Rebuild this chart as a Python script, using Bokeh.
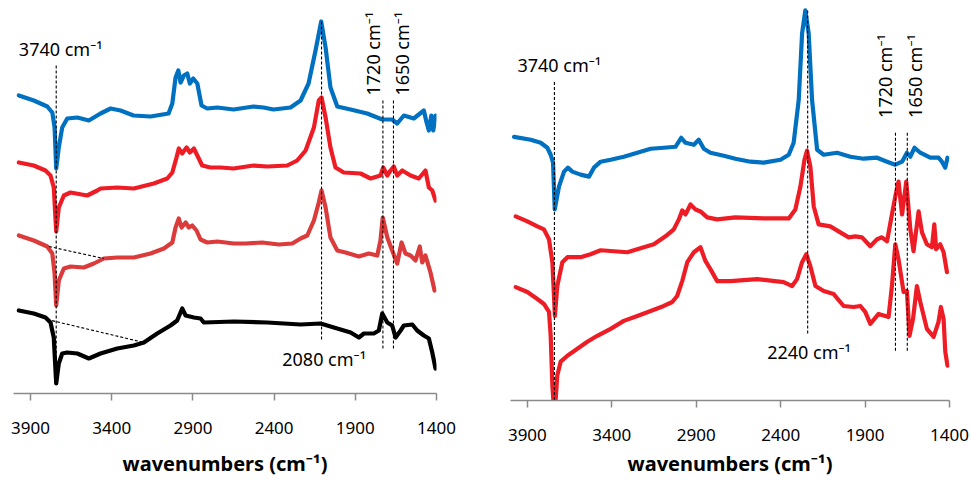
import math
from bokeh.plotting import figure
from bokeh.layouts import row
from bokeh.models import FixedTicker, Range1d
from bokeh.embed import file_html
from bokeh.resources import INLINE
from bokeh.core.properties import value

# ---------------- data (wavenumber in cm-1, intensity in a.u.) ----------------
TICKS = [3900, 3400, 2900, 2400, 1900, 1400]
AXIS_TITLE = "wavenumbers (cm⁻¹)"

# Left panel
L_blue_wn = [3972, 3880, 3797, 3766, 3752, 3742, 3726, 3705, 3674, 3612, 3541, 3469, 3407, 3346, 3266, 3161,
             3050, 3027, 3007, 2990, 2976, 2956, 2935, 2919, 2898, 2873, 2847, 2812, 2750, 2650, 2527, 2465,
             2404, 2299, 2237, 2188, 2145, 2110, 2083, 2053, 2011, 1929, 1827, 1734, 1673, 1642, 1601, 1540,
             1478, 1461, 1447, 1432, 1420, 1406]
L_blue_int = [298, 293, 287, 281, 266, 225, 246, 266, 275, 276, 273, 280, 285, 283, 278, 277,
              280, 290, 316, 323, 311, 318, 320, 310, 315, 310, 288, 285, 286, 284, 287, 286,
              284, 286, 293, 310, 343, 372, 346, 306, 287, 284, 280, 274, 274, 270, 278, 275,
              283, 271, 263, 278, 263, 278]

L_red_wn = [3972, 3881, 3808, 3777, 3757, 3742, 3726, 3695, 3654, 3551, 3489, 3469, 3366, 3264, 3141,
            3058, 3027, 3001, 2987, 2966, 2939, 2919, 2894, 2867, 2843, 2792, 2730, 2650, 2527, 2442,
            2319, 2258, 2206, 2155, 2125, 2108, 2083, 2053, 2022, 1971, 1868, 1806, 1745, 1728, 1703,
            1683, 1663, 1642, 1611, 1560, 1509, 1468, 1447, 1426, 1406]
L_red_int = [231, 228, 223, 218, 206, 162, 186, 198, 201, 198, 203, 205, 206, 205, 210,
             215, 221, 236, 245, 240, 246, 241, 245, 236, 228, 226, 226, 225, 228, 227,
             228, 233, 243, 266, 293, 296, 276, 246, 226, 221, 220, 215, 218, 226, 218,
             223, 227, 218, 223, 218, 215, 223, 206, 203, 193]

L_red2_wn = [3972, 3880, 3797, 3766, 3752, 3742, 3726, 3695, 3654, 3572, 3510, 3449, 3366, 3264, 3161,
             3079, 3027, 3007, 2987, 2970, 2945, 2925, 2904, 2878, 2853, 2812, 2750, 2648, 2576, 2473,
             2371, 2288, 2237, 2196, 2155, 2125, 2108, 2083, 2053, 2011, 1960, 1878, 1817, 1765, 1745,
             1731, 1703, 1673, 1642, 1615, 1591, 1560, 1529, 1503, 1488, 1468, 1437, 1412]
L_red2_int = [158, 153, 147, 140, 120, 88, 113, 125, 127, 126, 130, 135, 136, 136, 140,
              145, 151, 166, 175, 166, 171, 166, 168, 163, 154, 151, 152, 150, 150, 151,
              149, 150, 155, 158, 173, 191, 203, 186, 156, 143, 141, 137, 140, 138, 153,
              176, 156, 143, 130, 151, 140, 138, 133, 147, 131, 138, 121, 103]

L_black_wn = [3972, 3880, 3808, 3777, 3757, 3742, 3726, 3705, 3674, 3612, 3541, 3469, 3366, 3264, 3202,
              3120, 3038, 2997, 2966, 2945, 2894, 2853, 2833, 2648, 2442, 2237, 2114, 2032, 1929, 1878,
              1847, 1786, 1755, 1734, 1703, 1673, 1652, 1621, 1601, 1549, 1519, 1478, 1447, 1426, 1406]
L_black_int = [83, 80, 76, 71, 56, 10, 30, 40, 41, 40, 35, 40, 45, 48, 51,
               60, 68, 73, 85, 78, 76, 75, 71, 72, 71, 69, 70, 66, 61, 56,
               60, 60, 63, 80, 71, 68, 56, 63, 68, 69, 63, 58, 55, 41, 25]

L_vline_wn = [3742, 2108, 1730, 1665]
L_vline_top = [328, 372, 293, 293]
L_vline_bottom = [10, 53, 45, 45]
L_base_x0 = [3787, 3797]
L_base_y0 = [147, 74]
L_base_x1 = [3449, 3202]
L_base_y1 = [135, 51]

L_lab_text = ["3740 cm⁻¹", "2080 cm⁻¹"]
L_lab_wn = [3972, 2350]
L_lab_int = [345, 35]
L_rlab_text = ["1720 cm⁻¹", "1650 cm⁻¹"]
L_rlab_wn = [1791, 1613]
L_rlab_int = [298, 298]

# Right panel
R_blue_wn = [3979, 3880, 3821, 3782, 3762, 3748, 3738, 3713, 3683, 3660, 3634, 3585, 3535, 3506, 3466,
             3407, 3329, 3249, 3170, 3092, 3023, 2989, 2963, 2914, 2885, 2855, 2816, 2737, 2668, 2579,
             2500, 2401, 2352, 2323, 2293, 2273, 2254, 2234, 2214, 2184, 2145, 2066, 1987, 1909, 1829,
             1770, 1721, 1681, 1652, 1632, 1607, 1573, 1514, 1465, 1445, 1425, 1412]
R_blue_int = [265, 262, 259, 254, 247, 239, 192, 215, 230, 234, 230, 227, 225, 234, 240,
              242, 245, 249, 253, 254, 255, 264, 259, 257, 262, 253, 249, 246, 243, 240,
              239, 242, 247, 259, 302, 369, 392, 369, 302, 252, 247, 249, 245, 243, 244,
              240, 237, 240, 249, 245, 254, 249, 244, 244, 240, 234, 244]

R_red_wn = [3969, 3900, 3841, 3802, 3772, 3752, 3737, 3723, 3693, 3663, 3585, 3526, 3466, 3388, 3308,
            3230, 3151, 3082, 3033, 3003, 2983, 2963, 2934, 2904, 2875, 2835, 2776, 2668, 2500, 2352,
            2313, 2283, 2259, 2244, 2224, 2204, 2175, 2106, 2047, 1997, 1958, 1918, 1869, 1829, 1800,
            1770, 1741, 1721, 1702, 1681, 1656, 1632, 1613, 1583, 1563, 1534, 1504, 1490, 1479, 1455,
            1435, 1415]
R_red_int = [185, 180, 175, 172, 162, 139, 85, 115, 139, 144, 144, 147, 151, 150, 149,
             153, 157, 165, 172, 182, 191, 187, 197, 192, 190, 184, 182, 184, 183, 183,
             192, 215, 242, 251, 235, 195, 177, 175, 169, 164, 165, 164, 155, 162, 164,
             160, 187, 205, 220, 187, 220, 172, 150, 190, 169, 157, 154, 177, 152, 157,
             149, 129]

R_red2_wn = [3969, 3900, 3841, 3802, 3772, 3762, 3752, 3746, 3733, 3723, 3703, 3663, 3604, 3545, 3486,
             3407, 3329, 3249, 3170, 3092, 3042, 3013, 2983, 2953, 2914, 2875, 2845, 2816, 2776, 2697,
             2539, 2382, 2332, 2303, 2273, 2248, 2224, 2194, 2145, 2086, 2027, 1968, 1928, 1899, 1869,
             1820, 1761, 1741, 1721, 1702, 1672, 1652, 1637, 1616, 1593, 1573, 1534, 1494, 1465, 1451,
             1435, 1425, 1412]
R_red2_int = [114, 109, 102, 97, 89, 65, 15, 0, 0, 25, 39, 45, 52, 59, 65,
              72, 80, 85, 90, 95, 99, 105, 120, 139, 149, 154, 140, 132, 120, 120,
              122, 119, 115, 122, 139, 147, 135, 115, 110, 107, 95, 94, 95, 89, 77,
              87, 84, 115, 157, 142, 109, 110, 65, 82, 115, 99, 72, 64, 79, 94,
              82, 49, 35]

R_vline_wn = [3740, 2240, 1720, 1650]
R_vline_top = [320, 392, 269, 269]
R_vline_bottom = [0, 67, 50, 50]

R_lab_text = ["3740 cm⁻¹", "2240 cm⁻¹"]
R_lab_wn = [3959, 2480]
R_lab_int = [337, 49]
R_rlab_text = ["1720 cm⁻¹", "1650 cm⁻¹"]
R_rlab_wn = [1780, 1603]
R_rlab_int = [284, 284]

BLUE = "#0070C0"
RED = "#EE1C25"
RED2 = "#DC3B3B"
FONT = "Noto Sans"


def make_panel(width, border_left, border_right, border_bottom, x_start, y_max, title_standoff):
    p = figure(width=width, height=480, output_backend="svg", toolbar_location=None,
               x_range=Range1d(x_start, 1400), y_range=Range1d(0, y_max),
               y_axis_location=None, min_border_left=border_left, min_border_right=border_right,
               min_border_top=0, min_border_bottom=border_bottom, frame_align=False)
    p.grid.visible = False
    p.outline_line_color = None
    p.background_fill_color = "white"
    p.border_fill_color = "white"
    ax = p.xaxis[0]
    ax.ticker = FixedTicker(ticks=TICKS)
    ax.minor_tick_line_color = None
    ax.axis_line_color = "#8a8a8a"
    ax.axis_line_width = 1.5
    ax.major_tick_line_color = "#8a8a8a"
    ax.major_tick_line_width = 1.5
    ax.major_tick_out = 7
    ax.major_tick_in = 0
    ax.major_label_text_font = FONT
    ax.major_label_text_font_size = "17px"
    ax.major_label_text_color = "black"
    ax.major_label_standoff = 21
    ax.axis_label = AXIS_TITLE
    ax.axis_label_text_font = FONT
    ax.axis_label_text_font_style = "bold"
    ax.axis_label_text_font_size = "20px"
    ax.axis_label_text_color = "black"
    ax.axis_label_standoff = title_standoff
    return p


def add_common(p, series, vx, vtop, vbot, lab, rlab):
    for xs, ys, c in series:
        p.line(xs, ys, line_color=c, line_width=4.2, line_join="round", line_cap="round")
    p.segment(x0=vx, y0=vtop, x1=vx, y1=vbot, line_color="black", line_width=1.1, line_dash="3 2")
    t, x, y = lab
    p.text(x=x, y=y, text=t, text_font=value(FONT), text_font_size="18px",
           text_align="left", text_baseline="alphabetic", text_color="black")
    t, x, y = rlab
    p.text(x=x, y=y, text=t, text_font=value(FONT), text_font_size="18px",
           text_align="left", text_baseline="middle", text_color="black", angle=math.pi / 2)


left = make_panel(490, 13, 54, 87, 4005, 393, 13)
add_common(left,
           [(L_blue_wn, L_blue_int, BLUE), (L_red_wn, L_red_int, RED),
            (L_red2_wn, L_red2_int, RED2), (L_black_wn, L_black_int, "black")],
           L_vline_wn, L_vline_top, L_vline_bottom,
           (L_lab_text, L_lab_wn, L_lab_int), (L_rlab_text, L_rlab_wn, L_rlab_int))
left.segment(x0=L_base_x0, y0=L_base_y0, x1=L_base_x1, y1=L_base_y1,
             line_color="black", line_width=1.1, line_dash="3 2")

right = make_panel(481, 20, 22, 80, 4000, 402, 6)
add_common(right,
           [(R_blue_wn, R_blue_int, BLUE), (R_red_wn, R_red_int, RED), (R_red2_wn, R_red2_int, RED)],
           R_vline_wn, R_vline_top, R_vline_bottom,
           (R_lab_text, R_lab_wn, R_lab_int), (R_rlab_text, R_rlab_wn, R_rlab_int))

layout = row(left, right, spacing=0)
open("out.html", "w").write(file_html(layout, INLINE))
